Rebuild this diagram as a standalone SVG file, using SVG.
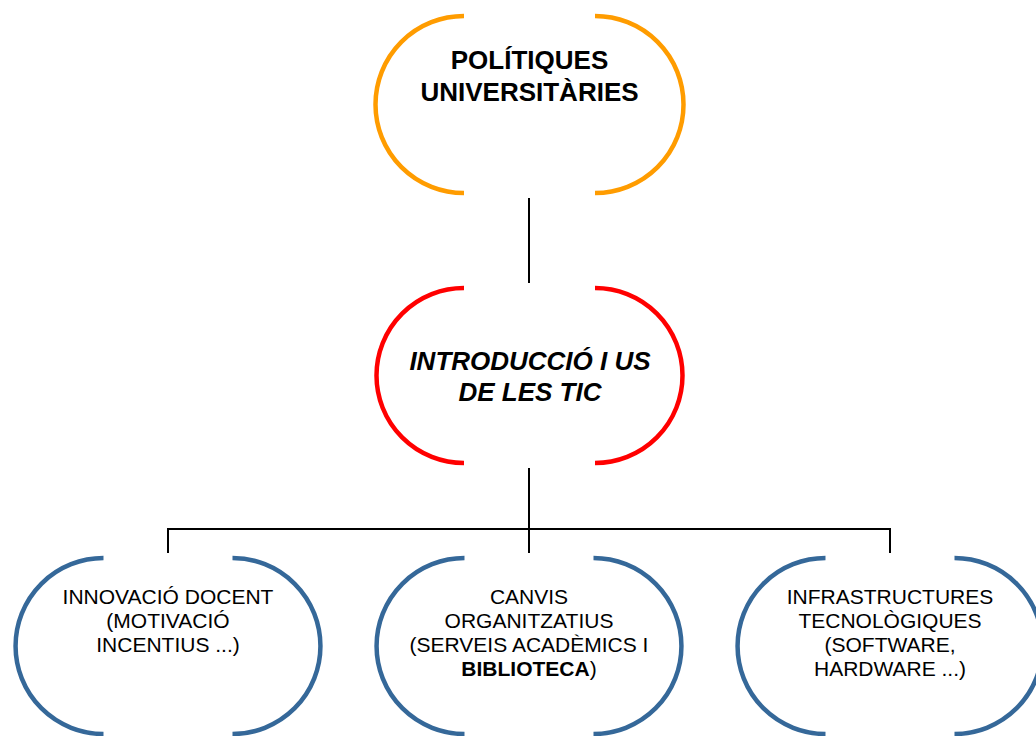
<svg xmlns="http://www.w3.org/2000/svg" width="1036" height="736" viewBox="0 0 1036 736">
<style>
.arc{fill:none;stroke-width:4.5}
.o{stroke:#FF9C00}
.r{stroke:#FF0000}
.b{stroke:#356899}
.t{font-family:"Liberation Sans",Arial,sans-serif;fill:#000;text-anchor:middle}
.big{font-size:26px;font-weight:bold}
.sm{font-size:21px}
.conn{stroke:#000;stroke-width:2;fill:none}
</style>
<rect width="1036" height="736" fill="#fff"/>
<g id="connectors">
<line class="conn" x1="529" y1="198" x2="529" y2="283"/>
<line class="conn" x1="529" y1="468" x2="529" y2="553"/>
<line class="conn" x1="168" y1="529" x2="890" y2="529"/>
<line class="conn" x1="168" y1="528" x2="168" y2="553"/>
<line class="conn" x1="890" y1="528" x2="890" y2="553"/>
</g>
<g id="politiques">
<path class="arc o" d="M464,16 A88.5,88.5 0 0 0 464,193"/>
<path class="arc o" d="M595,16 A88.5,88.5 0 0 1 595,193"/>
<text class="t big" x="529.5" y="69">POLÍTIQUES</text>
<text class="t big" x="529.5" y="101">UNIVERSITÀRIES</text>
</g>
<g id="introduccio">
<path class="arc r" d="M464,288 A87.5,87.5 0 0 0 464,463"/>
<path class="arc r" d="M595,288 A87.5,87.5 0 0 1 595,463"/>
<text class="t big" font-style="italic" x="530" y="370">INTRODUCCIÓ I US</text>
<text class="t big" font-style="italic" x="530" y="401">DE LES TIC</text>
</g>
<g id="innovacio">
<path class="arc b" d="M103.5,558 A88,88 0 0 0 103.5,734"/>
<path class="arc b" d="M232.5,558 A88,88 0 0 1 232.5,734"/>
<text class="t sm" x="168" y="604">INNOVACIÓ DOCENT</text>
<text class="t sm" x="168" y="628">(MOTIVACIÓ</text>
<text class="t sm" x="168" y="652">INCENTIUS ...)</text>
</g>
<g id="canvis">
<path class="arc b" d="M464.5,558 A88,88 0 0 0 464.5,734"/>
<path class="arc b" d="M593.5,558 A88,88 0 0 1 593.5,734"/>
<text class="t sm" x="529" y="604">CANVIS</text>
<text class="t sm" x="529" y="628">ORGANITZATIUS</text>
<text class="t sm" x="529" y="652">(SERVEIS ACADÈMICS I</text>
<text class="t sm" x="529" y="676"><tspan font-weight="bold">BIBLIOTECA</tspan>)</text>
</g>
<g id="infraestructures">
<path class="arc b" d="M825.5,558 A88,88 0 0 0 825.5,734"/>
<path class="arc b" d="M954.5,558 A88,88 0 0 1 954.5,734"/>
<text class="t sm" x="890" y="604">INFRASTRUCTURES</text>
<text class="t sm" x="890" y="628">TECNOLÒGIQUES</text>
<text class="t sm" x="890" y="652">(SOFTWARE,</text>
<text class="t sm" x="890" y="676">HARDWARE ...)</text>
</g>
</svg>
